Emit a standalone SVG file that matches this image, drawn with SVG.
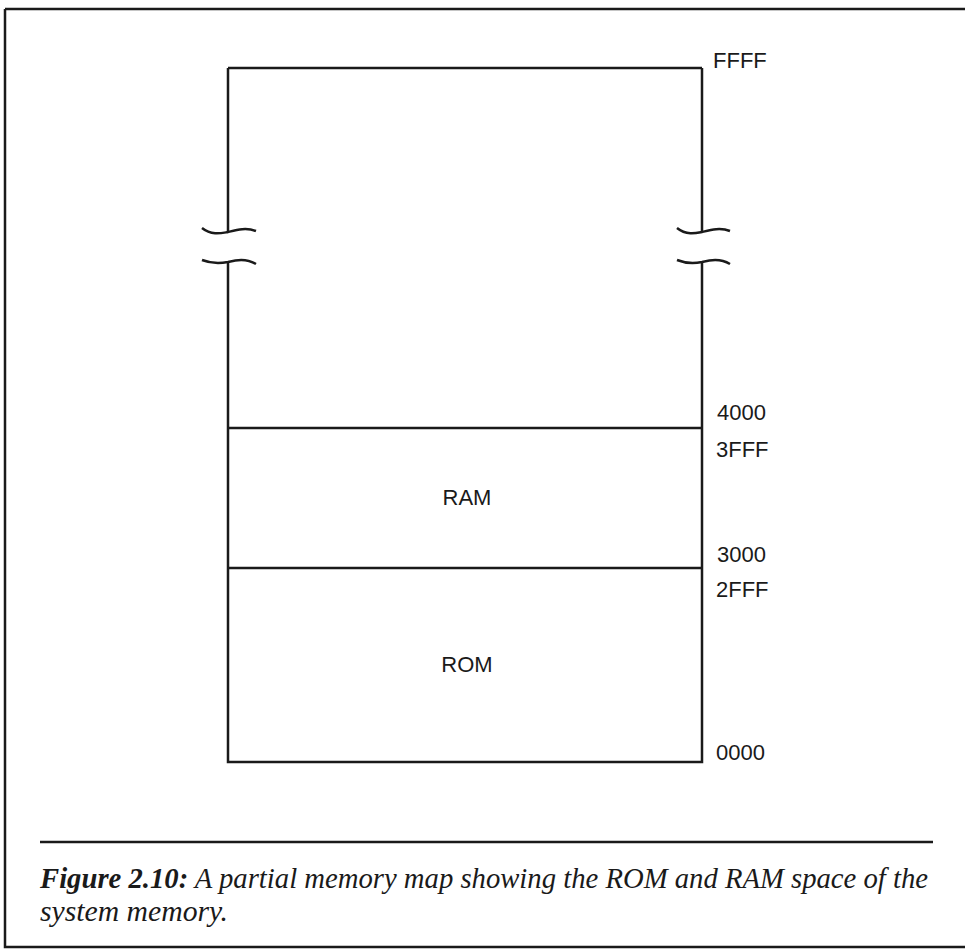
<svg xmlns="http://www.w3.org/2000/svg" width="965" height="949" viewBox="0 0 965 949">
<style>
.ln{stroke:#1a1a1a;stroke-width:2.5;fill:none}
.lb{font-family:"Liberation Sans",Arial,sans-serif;font-size:22px;fill:#1a1a1a}
.cap{font-family:"Liberation Serif","Times New Roman",serif;font-size:29px;font-style:italic;fill:#1a1a1a}
</style>
<rect width="965" height="949" fill="#ffffff"/>
<g id="frame">
<path class="ln" d="M5 9 H965 M5 9 V947 H965"/>
</g>
<g id="connectors">
<path class="ln" d="M228 68 H702 M228 68 V232 M228 263 V762 H702 V263 M702 232 V68"/>
<path class="ln" d="M202 228 C212 236 222 233 228 232 C236 230 246 227 256 231"/>
<path class="ln" d="M202 260 C212 264 222 263 228 262 C236 260 246 258 256 264"/>
<path class="ln" d="M677 228 C687 236 697 233 702 232 C710 230 720 227 730 231"/>
<path class="ln" d="M677 260 C687 264 697 263 702 262 C710 260 720 258 730 264"/>
</g>
<g id="ram">
<path class="ln" d="M228 428 H702"/>
<text class="lb" x="467" y="505" text-anchor="middle">RAM</text>
</g>
<g id="rom">
<path class="ln" d="M228 568 H702"/>
<text class="lb" x="467" y="672" text-anchor="middle">ROM</text>
</g>
<g id="labels">
<text class="lb" x="713" y="68">FFFF</text>
<text class="lb" x="717" y="420">4000</text>
<text class="lb" x="716" y="457">3FFF</text>
<text class="lb" x="717" y="562">3000</text>
<text class="lb" x="716" y="597">2FFF</text>
<text class="lb" x="716" y="760">0000</text>
</g>
<g id="caption">
<path class="ln" d="M40 842 H933"/>
<text class="cap" x="40" y="888" textLength="888" lengthAdjust="spacingAndGlyphs"><tspan font-weight="bold">Figure 2.10:</tspan> A partial memory map showing the ROM and RAM space of the</text>
<text class="cap" x="40" y="921" textLength="188" lengthAdjust="spacingAndGlyphs">system memory.</text>
</g>
</svg>
